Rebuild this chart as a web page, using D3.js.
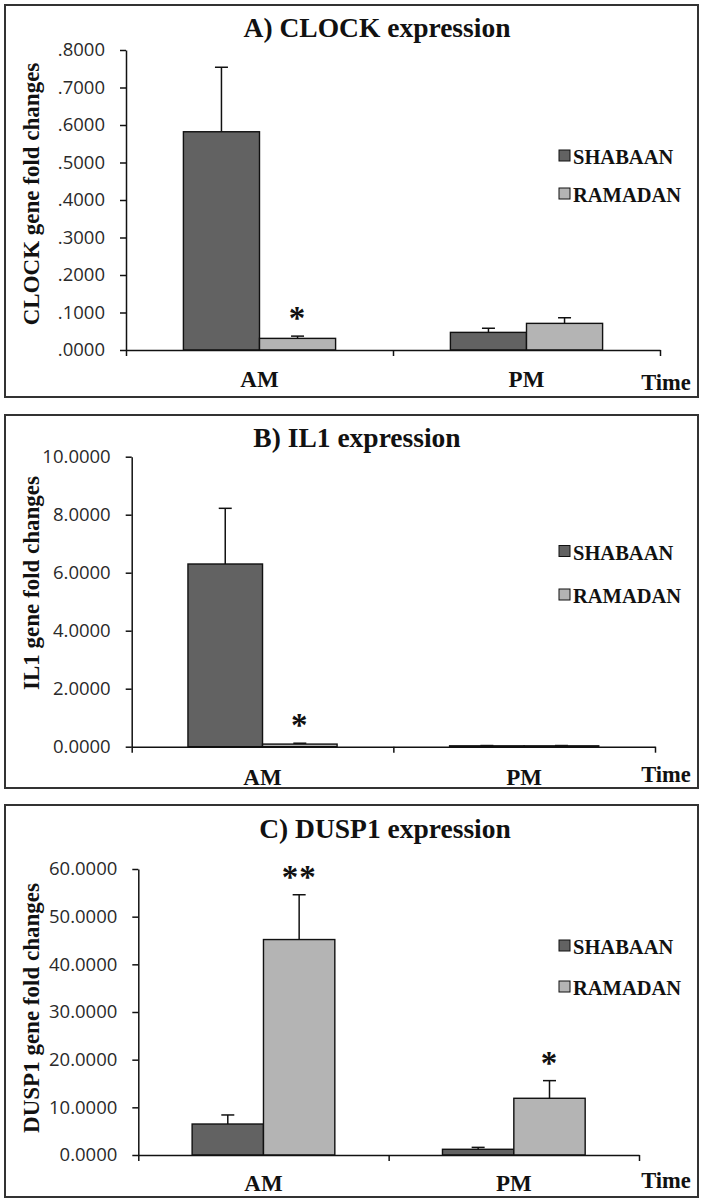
<!DOCTYPE html>
<html>
<head>
<meta charset="utf-8">
<script src="https://cdn.jsdelivr.net/npm/d3@7"></script>
<style>
  html, body { margin: 0; padding: 0; background: #fff; }
  svg { display: block; }
</style>
</head>
<body>
<script>
// ---------------- DATA ----------------
const categories = ["AM", "PM"];
const seriesNames = ["SHABAAN", "RAMADAN"];

// A) CLOCK
const clockShabaan = [0.582, 0.047];
const clockShabaanErr = [0.172, 0.011];
const clockRamadan = [0.031, 0.071];
const clockRamadanErr = [0.006, 0.015];
const clockSigShabaan = ["", ""];
const clockSigRamadan = ["*", ""];
const clockTicks = [0, 0.1, 0.2, 0.3, 0.4, 0.5, 0.6, 0.7, 0.8];
const clockTickLabels = [".0000", ".1000", ".2000", ".3000", ".4000", ".5000", ".6000", ".7000", ".8000"];

// B) IL1
const il1Shabaan = [6.30, 0.03];
const il1ShabaanErr = [1.92, 0.01];
const il1Ramadan = [0.09, 0.03];
const il1RamadanErr = [0.03, 0.01];
const il1SigShabaan = ["", ""];
const il1SigRamadan = ["*", ""];
const il1Ticks = [0, 2, 4, 6, 8, 10];
const il1TickLabels = ["0.0000", "2.0000", "4.0000", "6.0000", "8.0000", "10.0000"];

// C) DUSP1
const duspShabaan = [6.5, 1.2];
const duspShabaanErr = [1.9, 0.4];
const duspRamadan = [45.2, 11.9];
const duspRamadanErr = [9.4, 3.7];
const duspSigShabaan = ["", ""];
const duspSigRamadan = ["**", "*"];
const duspTicks = [0, 10, 20, 30, 40, 50, 60];
const duspTickLabels = ["0.0000", "10.0000", "20.0000", "30.0000", "40.0000", "50.0000", "60.0000"];

const titles = ["A) CLOCK expression", "B) IL1 expression", "C) DUSP1 expression"];
const yTitles = ["CLOCK gene fold changes", "IL1 gene fold changes", "DUSP1 gene fold changes"];
const xTitle = "Time";

// ---------------- LAYOUT / STYLE ----------------
const W = 706, H = 1202;
const colors = { SHABAAN: "#626262", RAMADAN: "#b4b4b4" };
const serif = "'Liberation Serif', 'Times New Roman', serif";
const sans = "'Open Sans', 'Noto Sans', sans-serif";

const panels = [
  { frame: [5, 5, 698, 397], xr: [126, 660], yr: [350, 50], ymax: 0.8, titleX: 377, titleY: 37,
    yTitleY: 194, xLabY: 387, timeY: 390, legY: [164, 202],
    shab: clockShabaan, shabErr: clockShabaanErr, ram: clockRamadan, ramErr: clockRamadanErr,
    sigS: clockSigShabaan, sigR: clockSigRamadan, ticks: clockTicks, tickLabels: clockTickLabels },
  { frame: [5, 415, 698, 788], xr: [131.7, 655], yr: [746.7, 456.7], ymax: 10, titleX: 357, titleY: 447,
    yTitleY: 583, xLabY: 785, timeY: 782, legY: [559.5, 603],
    shab: il1Shabaan, shabErr: il1ShabaanErr, ram: il1Ramadan, ramErr: il1RamadanErr,
    sigS: il1SigShabaan, sigR: il1SigRamadan, ticks: il1Ticks, tickLabels: il1TickLabels },
  { frame: [5, 805, 698, 1197], xr: [138.3, 639], yr: [1155, 869], ymax: 60, titleX: 385, titleY: 838,
    yTitleY: 1008, xLabY: 1191, timeY: 1188, legY: [954, 995],
    shab: duspShabaan, shabErr: duspShabaanErr, ram: duspRamadan, ramErr: duspRamadanErr,
    sigS: duspSigShabaan, sigR: duspSigRamadan, ticks: duspTicks, tickLabels: duspTickLabels }
];

const svg = d3.select("body").append("svg").attr("width", W).attr("height", H);
svg.append("rect").attr("width", W).attr("height", H).attr("fill", "#fff");

panels.forEach((p, pi) => {
  const g = svg.append("g");
  const [fx0, fy0, fx1, fy1] = p.frame;
  g.append("rect")
    .attr("x", fx0).attr("y", fy0).attr("width", fx1 - fx0).attr("height", fy1 - fy0)
    .attr("fill", "none").attr("stroke", "#333").attr("stroke-width", 2);

  const y = d3.scaleLinear().domain([0, p.ymax]).range(p.yr);
  const x0 = d3.scaleBand().domain(categories).range(p.xr).paddingInner(0.43).paddingOuter(0.215);
  const x1 = d3.scaleBand().domain(seriesNames).range([0, x0.bandwidth()]).padding(0);

  // Title
  g.append("text").attr("x", p.titleX).attr("y", p.titleY).attr("text-anchor", "middle")
    .attr("font-family", serif).attr("font-weight", "bold").attr("font-size", 27.5).attr("fill", "#111")
    .text(titles[pi]);

  // Y axis
  const yAxis = d3.axisLeft(y).tickValues(p.ticks).tickFormat((d, i) => p.tickLabels[i])
    .tickSize(6).tickSizeOuter(0).tickPadding(15);
  const ya = g.append("g").attr("transform", `translate(${p.xr[0]},0)`).call(yAxis);
  ya.select(".domain").attr("stroke", "#111").attr("stroke-width", 1.5);
  ya.selectAll(".tick line").attr("stroke", "#111").attr("stroke-width", 1.5);
  ya.selectAll(".tick text").attr("font-family", sans).attr("font-size", 18.5).attr("fill", "#2a2a2a");

  // Y title
  g.append("text")
    .attr("transform", `translate(39,${p.yTitleY}) rotate(-90)`)
    .attr("text-anchor", "middle").attr("font-family", serif).attr("font-weight", "bold")
    .attr("font-size", 23).attr("fill", "#111").text(yTitles[pi]);

  // Bars
  const rows = categories.map((c, i) => ({
    cat: c,
    vals: [
      { s: "SHABAAN", v: p.shab[i], e: p.shabErr[i], sig: p.sigS[i] },
      { s: "RAMADAN", v: p.ram[i], e: p.ramErr[i], sig: p.sigR[i] }
    ]
  }));
  const grp = g.selectAll(".grp").data(rows).enter().append("g")
    .attr("transform", d => `translate(${x0(d.cat)},0)`);

  // error bars (drawn before bars so the bar top edge sits over it)
  const eb = grp.selectAll(".err").data(d => d.vals).enter().append("g");
  eb.append("line")
    .attr("x1", d => x1(d.s) + x1.bandwidth() / 2).attr("x2", d => x1(d.s) + x1.bandwidth() / 2)
    .attr("y1", d => y(d.v)).attr("y2", d => y(d.v + d.e))
    .attr("stroke", "#111").attr("stroke-width", 1.5);
  eb.append("line")
    .attr("x1", d => x1(d.s) + x1.bandwidth() / 2 - 6.5).attr("x2", d => x1(d.s) + x1.bandwidth() / 2 + 6.5)
    .attr("y1", d => y(d.v + d.e)).attr("y2", d => y(d.v + d.e))
    .attr("stroke", "#111").attr("stroke-width", 1.5);

  grp.selectAll("rect").data(d => d.vals).enter().append("rect")
    .attr("x", d => x1(d.s)).attr("width", x1.bandwidth())
    .attr("y", d => y(d.v)).attr("height", d => y(0) - y(d.v))
    .attr("fill", d => colors[d.s]).attr("stroke", "#111").attr("stroke-width", 1.4);

  // significance marks
  grp.selectAll(".sig").data(d => d.vals.filter(v => v.sig)).enter().append("text")
    .attr("x", d => x1(d.s) + x1.bandwidth() / 2)
    .attr("y", d => y(d.v + d.e) - 7)
    .attr("text-anchor", "middle").attr("font-family", serif).attr("font-weight", "bold")
    .attr("font-size", 33).attr("fill", "#111").attr("letter-spacing", 1)
    .text(d => d.sig);

  // X axis with boundary ticks
  const xb = d3.scaleLinear().domain([0, categories.length]).range(p.xr);
  const xAxis = d3.axisBottom(xb).tickValues(d3.range(categories.length + 1))
    .tickFormat("").tickSize(6).tickSizeOuter(0);
  const xa = g.append("g").attr("transform", `translate(0,${y(0)})`).call(xAxis);
  xa.select(".domain").attr("stroke", "#111").attr("stroke-width", 1.5);
  xa.selectAll(".tick line").attr("stroke", "#111").attr("stroke-width", 1.5);

  // Category labels
  g.selectAll(".cat").data(categories).enter().append("text")
    .attr("x", d => x0(d) + x0.bandwidth() / 2).attr("y", p.xLabY)
    .attr("text-anchor", "middle").attr("font-family", serif).attr("font-weight", "bold")
    .attr("font-size", 23).attr("fill", "#111").text(d => d);

  g.append("text").attr("x", 666).attr("y", p.timeY).attr("text-anchor", "middle")
    .attr("font-family", serif).attr("font-weight", "bold").attr("font-size", 22.5).attr("fill", "#111")
    .text(xTitle);

  // Legend
  const lg = g.selectAll(".leg").data(seriesNames).enter().append("g");
  lg.append("rect").attr("x", 559).attr("y", (d, i) => p.legY[i] - 14)
    .attr("width", 11).attr("height", 11)
    .attr("fill", d => colors[d]).attr("stroke", "#111").attr("stroke-width", 1);
  lg.append("text").attr("x", 573).attr("y", (d, i) => p.legY[i])
    .attr("font-family", serif).attr("font-weight", "bold").attr("font-size", 20.5).attr("fill", "#111")
    .text(d => d);
});
</script>
</body>
</html>
